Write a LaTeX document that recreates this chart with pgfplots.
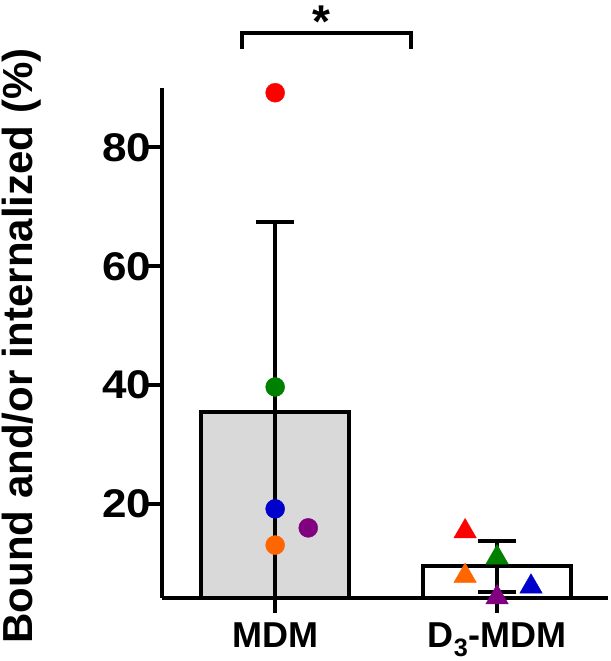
\documentclass[border=0pt]{standalone}
\usepackage{fontspec}
\setmainfont{Liberation Sans}
\usepackage{pgfplots}
\pgfplotsset{compat=1.18}

\definecolor{dred}{RGB}{255,0,0}
\definecolor{dgreen}{RGB}{0,128,0}
\definecolor{dblue}{RGB}{0,0,205}
\definecolor{dorange}{RGB}{255,102,0}
\definecolor{dpurple}{RGB}{128,0,128}
\definecolor{barfill}{RGB}{217,217,217}

\begin{document}
\begin{tikzpicture}
\begin{axis}[
    scale only axis,
    width=446pt, height=510pt,
    xmin=-0.51, xmax=1.5,
    ymin=4.2, ymax=90,
    axis x line=bottom, axis y line=left,
    axis line style={line width=4pt, -},
    xtick={0,1},
    xticklabels={MDM, D\textsubscript{3}-MDM},
    ytick={20,40,60,80},
    yticklabels={20,40,60,80},
    tick align=outside,
    major tick length=15pt,
    tick style={line width=4pt, black},
    xticklabel style={font=\fontsize{36}{40}\selectfont\bfseries, yshift=-6pt},
    yticklabel style={font=\fontsize{40}{44}\selectfont\bfseries, xshift=8pt, xscale=1.1, transform shape},
    ylabel={Bound and/or internalized (\%)},
    every axis y label/.style={at={(axis description cs:-0.314,0.494)}, rotate=90,
        anchor=center, font=\fontsize{42}{46}\selectfont\bfseries},
    clip mode=individual,
]
% bars with SD
\addplot[ybar, bar width=148pt, bar shift=0pt, fill=barfill, draw=black, line width=4pt,
    error bars/.cd, y dir=both, y explicit,
    error bar style={line width=4pt, black},
    error mark options={rotate=90, line width=4pt, black, mark size=19pt}]
    coordinates {(0,35.5) += (0,31.9) -= (0,31.3)};
\addplot[ybar, bar width=148pt, bar shift=0pt, fill=white, draw=black, line width=4pt,
    error bars/.cd, y dir=both, y explicit,
    error bar style={line width=4pt, black},
    error mark options={rotate=90, line width=4pt, black, mark size=19pt}]
    coordinates {(1,9.6) += (0,4.2) -= (0,4.4)};

% individual donors
\addplot[scatter, only marks, scatter src=explicit symbolic,
    scatter/classes={
        rc={mark=*, mark size=9.5pt, dred},
        gc={mark=*, mark size=9.5pt, dgreen},
        bc={mark=*, mark size=9.5pt, dblue},
        oc={mark=*, mark size=9.5pt, dorange},
        pc={mark=*, mark size=9.5pt, dpurple},
        rt={mark=triangle*, mark size=13pt, dred},
        gt={mark=triangle*, mark size=13pt, dgreen},
        bt={mark=triangle*, mark size=13pt, dblue},
        ot={mark=triangle*, mark size=13pt, dorange},
        pt={mark=triangle*, mark size=13pt, dpurple}}]
    table[meta=c] {
x     y    c
0     89.2 rc
0     39.7 gc
0     19.2 bc
0     13.1 oc
0.149 16.0 pc
0.856 15.4 rt
1     11.0 gt
1.153 6.1  bt
0.856 7.9  ot
1     4.3  pt
};

% significance bracket
\draw[line width=4pt] (axis cs:-0.149,96.6) -- (axis cs:-0.149,99.2)
    -- (axis cs:0.613,99.2) -- (axis cs:0.613,96.6);
\node[anchor=north, inner sep=0pt, font=\fontsize{46}{50}\selectfont\bfseries]
    at (axis cs:0.207,103.9) {*};

\coordinate (bl) at (axis description cs:-0.3632,-0.1235);
\coordinate (tr) at (axis description cs:1.0045,1.1725);
\end{axis}
\pgfresetboundingbox
\path[use as bounding box] (bl) rectangle (tr);
\end{tikzpicture}
\end{document}
